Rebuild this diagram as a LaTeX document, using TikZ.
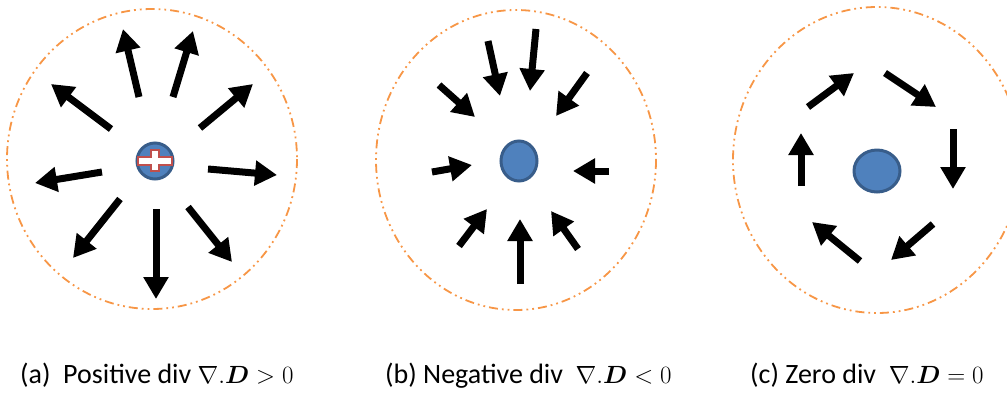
\documentclass[tikz,border=0pt]{standalone}
\usepackage{fontspec}
\setmainfont{Carlito}
\usepackage{amsmath,bm}
\usetikzlibrary{arrows.meta}
\definecolor{ring}{HTML}{F79646}
\definecolor{bfill}{HTML}{4F81BD}
\definecolor{bline}{HTML}{385D8A}
\definecolor{plusred}{HTML}{C0504D}
\tikzset{
  fieldarrow/.style={line width=7pt, -{Triangle[width=24pt,length=22pt]}},
  region/.style={draw=ring, line width=1.8pt, dash pattern=on 9pt off 4pt on 1.8pt off 4pt on 1.8pt off 4pt},
  charge/.style={fill=bfill, draw=bline, line width=3pt},
  caption/.style={font=\fontsize{28}{32}\selectfont, anchor=base west, inner sep=0pt}
}
\begin{document}
\begin{tikzpicture}[x=1pt,y=-1pt]
\useasboundingbox (0,0) rectangle (1007,392);
% (a)
\draw[region] (152,159) ellipse [x radius=145, y radius=150];
\draw[charge] (155,161) circle [radius=18];
\draw[plusred, fill=white, line width=2.8pt]
  (151,150) -- (159,150) -- (159,157) -- (172,157) -- (172,165) -- (159,165) -- (159,171)
  -- (151,171) -- (151,165) -- (138,165) -- (138,157) -- (151,157) -- cycle;
\foreach \a/\b/\c/\d in {139/97/123/29, 173/97/193/31, 111/129/51/84, 200/128/253/84,
  102/172/35/183, 208/169/277/175, 120/199/73/258, 156/209/156/299, 188/207/232/262}
  \draw[fieldarrow] (\a,\b) -- (\c,\d);
\node[caption] (capa) at (20,383) {(a)\ \ Positive div $\nabla.\bm{D} > 0$};
% (b)
\draw[region] (516,160) ellipse [x radius=140, y radius=150];
\draw[charge] (519,161) circle [x radius=18, y radius=20];
\foreach \a/\b/\c/\d in {488/41/500/96, 536/29/530/91, 439/85/475/117, 587/73/556/116,
  432/172/472/165, 609/171/573/171, 459/246/487/209, 520/284/520/219, 578/249/551/211}
  \draw[fieldarrow] (\a,\b) -- (\c,\d);
\node[caption] (capb) at (385,383) {(b) Negative div\ \ $\nabla.\bm{D} < 0$};
% (c)
\draw[region] (877,160) ellipse [x radius=144, y radius=153];
\draw[charge] (877,171) circle [x radius=23, y radius=21];
\foreach \a/\b/\c/\d in {808/107/854/73, 885/73/936/107, 953/129/953/189,
  933/224/891/260, 860/261/812/222, 801/186/801/133}
  \draw[fieldarrow] (\a,\b) -- (\c,\d);
\node[caption] (capc) at (750,383) {(c) Zero div\ \ $\nabla.\bm{D} = 0$};
\end{tikzpicture}
\end{document}
